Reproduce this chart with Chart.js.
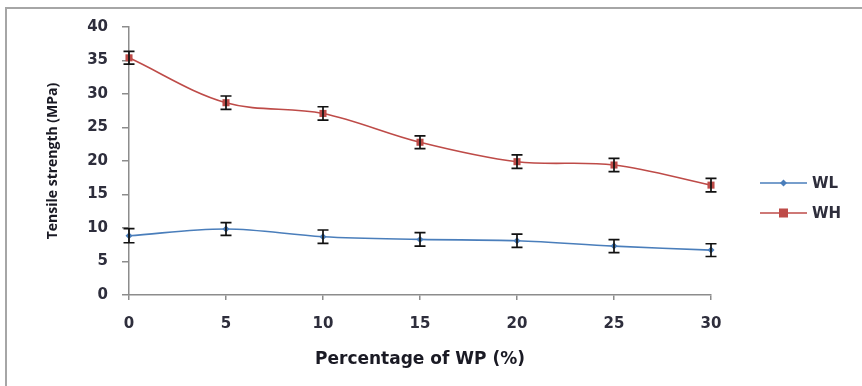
<!DOCTYPE html>
<html lang="en">
<head>
  <meta charset="UTF-8" />
  <title>Tensile strength vs WP</title>
  <script src="https://cdn.jsdelivr.net/npm/chart.js"></script>
  <style>
    html, body {
      margin: 0;
      padding: 0;
      background: #ffffff;
      overflow: hidden;
    }
    .wrap {
      position: relative;
      width: 862px;
      height: 386px;
    }
    .frame {
      position: absolute;
      left: 5px;
      top: 7px;
      width: 900px;
      height: 400px;
      border-left: 2px solid #a6a6a6;
      border-top: 2px solid #a6a6a6;
      pointer-events: none;
    }
  </style>
</head>
<body>
  <div class="wrap">
    <canvas id="tensileChart" width="862" height="386"></canvas>
    <div class="frame"></div>
  </div>

  <script>
    // data
    const wpPercent = [0, 5, 10, 15, 20, 25, 30];
    const wlValues = [8.85, 9.85, 8.7, 8.3, 8.1, 7.3, 6.7];
    const wlErrors = [1.05, 0.95, 1.0, 1.0, 1.0, 0.97, 0.95];
    const whValues = [35.4, 28.7, 27.1, 22.8, 19.9, 19.4, 16.4];
    const whErrors = [0.95, 1.0, 1.0, 0.95, 1.0, 1.0, 1.0];
    const xTicks = [0, 5, 10, 15, 20, 25, 30];
    const yTicks = [0, 5, 10, 15, 20, 25, 30, 35, 40];

    const blue = '#4a7ebb';
    const red = '#be4b48';
    const axisGray = '#8c8c8c';
    const textColor = '#2e2e3c';

    // error bars drawn through the chart scales
    const errorBars = {
      id: 'errorBars',
      afterDatasetsDraw(chart) {
        const ctx = chart.ctx;
        const xs = chart.scales.x, ys = chart.scales.y;
        ctx.save();
        ctx.strokeStyle = '#111111';
        ctx.lineWidth = 1.7;
        chart.data.datasets.forEach(ds => {
          ds.data.forEach((p, i) => {
            const err = ds.errors[i];
            const x = xs.getPixelForValue(p.x);
            const yTop = ys.getPixelForValue(p.y + err);
            const yBot = ys.getPixelForValue(p.y - err);
            ctx.beginPath();
            ctx.moveTo(x, yTop); ctx.lineTo(x, yBot);
            ctx.moveTo(x - 5.5, yTop); ctx.lineTo(x + 5.5, yTop);
            ctx.moveTo(x - 5.5, yBot); ctx.lineTo(x + 5.5, yBot);
            ctx.stroke();
          });
        });
        ctx.restore();
      }
    };

    // excel style legend: line with the marker in its middle
    const sideLegend = {
      id: 'sideLegend',
      afterDraw(chart) {
        const ctx = chart.ctx;
        const x0 = 760, x1 = 807;
        const rows = [183, 213];
        ctx.save();
        chart.data.datasets.forEach((ds, i) => {
          const y = rows[i];
          ctx.strokeStyle = ds.borderColor;
          ctx.lineWidth = 1.5;
          ctx.beginPath();
          ctx.moveTo(x0, y); ctx.lineTo(x1, y);
          ctx.stroke();
          ctx.fillStyle = ds.borderColor;
          const mx = (x0 + x1) / 2;
          if (ds.pointStyle === 'rect') {
            ctx.fillRect(mx - 4.5, y - 4.5, 9, 9);
          } else {
            ctx.beginPath();
            ctx.moveTo(mx, y - 3.5); ctx.lineTo(mx + 3.5, y);
            ctx.lineTo(mx, y + 3.5); ctx.lineTo(mx - 3.5, y);
            ctx.closePath();
            ctx.fill();
          }
          ctx.fillStyle = textColor;
          ctx.font = 'bold 15px "DejaVu Sans"';
          ctx.textBaseline = 'middle';
          ctx.fillText(ds.label, x1 + 5, y + 1);
        });
        ctx.restore();
      }
    };

    const toPoints = vals => vals.map((v, i) => ({ x: wpPercent[i], y: v }));

    new Chart(document.getElementById('tensileChart'), {
      type: 'line',
      data: {
        datasets: [
          {
            label: 'WL',
            data: toPoints(wlValues),
            errors: wlErrors,
            borderColor: blue,
            backgroundColor: blue,
            borderWidth: 1.6,
            pointStyle: 'rectRot',
            pointRadius: 3.5,
            pointBorderWidth: 0,
            tension: 0.35,
            clip: false
          },
          {
            label: 'WH',
            data: toPoints(whValues),
            errors: whErrors,
            borderColor: red,
            backgroundColor: red,
            borderWidth: 1.6,
            pointStyle: 'rect',
            pointRadius: 5,
            pointBorderWidth: 0,
            tension: 0.35,
            clip: false
          }
        ]
      },
      options: {
        responsive: false,
        animation: false,
        layout: { padding: { top: 27, right: 151, bottom: 0, left: 0 } },
        plugins: {
          legend: { display: false },
          tooltip: { enabled: false }
        },
        scales: {
          x: {
            type: 'linear',
            min: 0,
            max: 30,
            afterFit(scale) { scale.height = 91; },
            afterBuildTicks(scale) { scale.ticks = xTicks.map(v => ({ value: v })); },
            grid: { drawOnChartArea: false, color: axisGray, tickLength: 5, lineWidth: 1.5 },
            border: { color: axisGray, width: 1.5 },
            ticks: { color: textColor, font: { family: 'DejaVu Sans', size: 15, weight: 'bold' }, padding: 15, maxRotation: 0 },
            title: {
              display: true,
              text: 'Percentage of WP (%)',
              color: '#1a1a24',
              font: { family: 'DejaVu Sans', size: 17, weight: 'bold' },
              padding: { top: 0, bottom: 16 }
            }
          },
          y: {
            min: 0,
            max: 40,
            afterFit(scale) { scale.width = 129; },
            afterBuildTicks(scale) { scale.ticks = yTicks.map(v => ({ value: v })); },
            grid: { drawOnChartArea: false, color: axisGray, tickLength: 7, lineWidth: 1.5 },
            border: { color: axisGray, width: 1.5 },
            ticks: { color: textColor, font: { family: 'DejaVu Sans', size: 15, weight: 'bold' }, padding: 14 },
            title: {
              display: true,
              text: 'Tensile strength (MPa)',
              color: '#1a1a24',
              font: { family: 'Open Sans', size: 14, weight: 'bold' },
              padding: { top: 45, bottom: 0 }
            }
          }
        }
      },
      plugins: [errorBars, sideLegend]
    });
  </script>
</body>
</html>
